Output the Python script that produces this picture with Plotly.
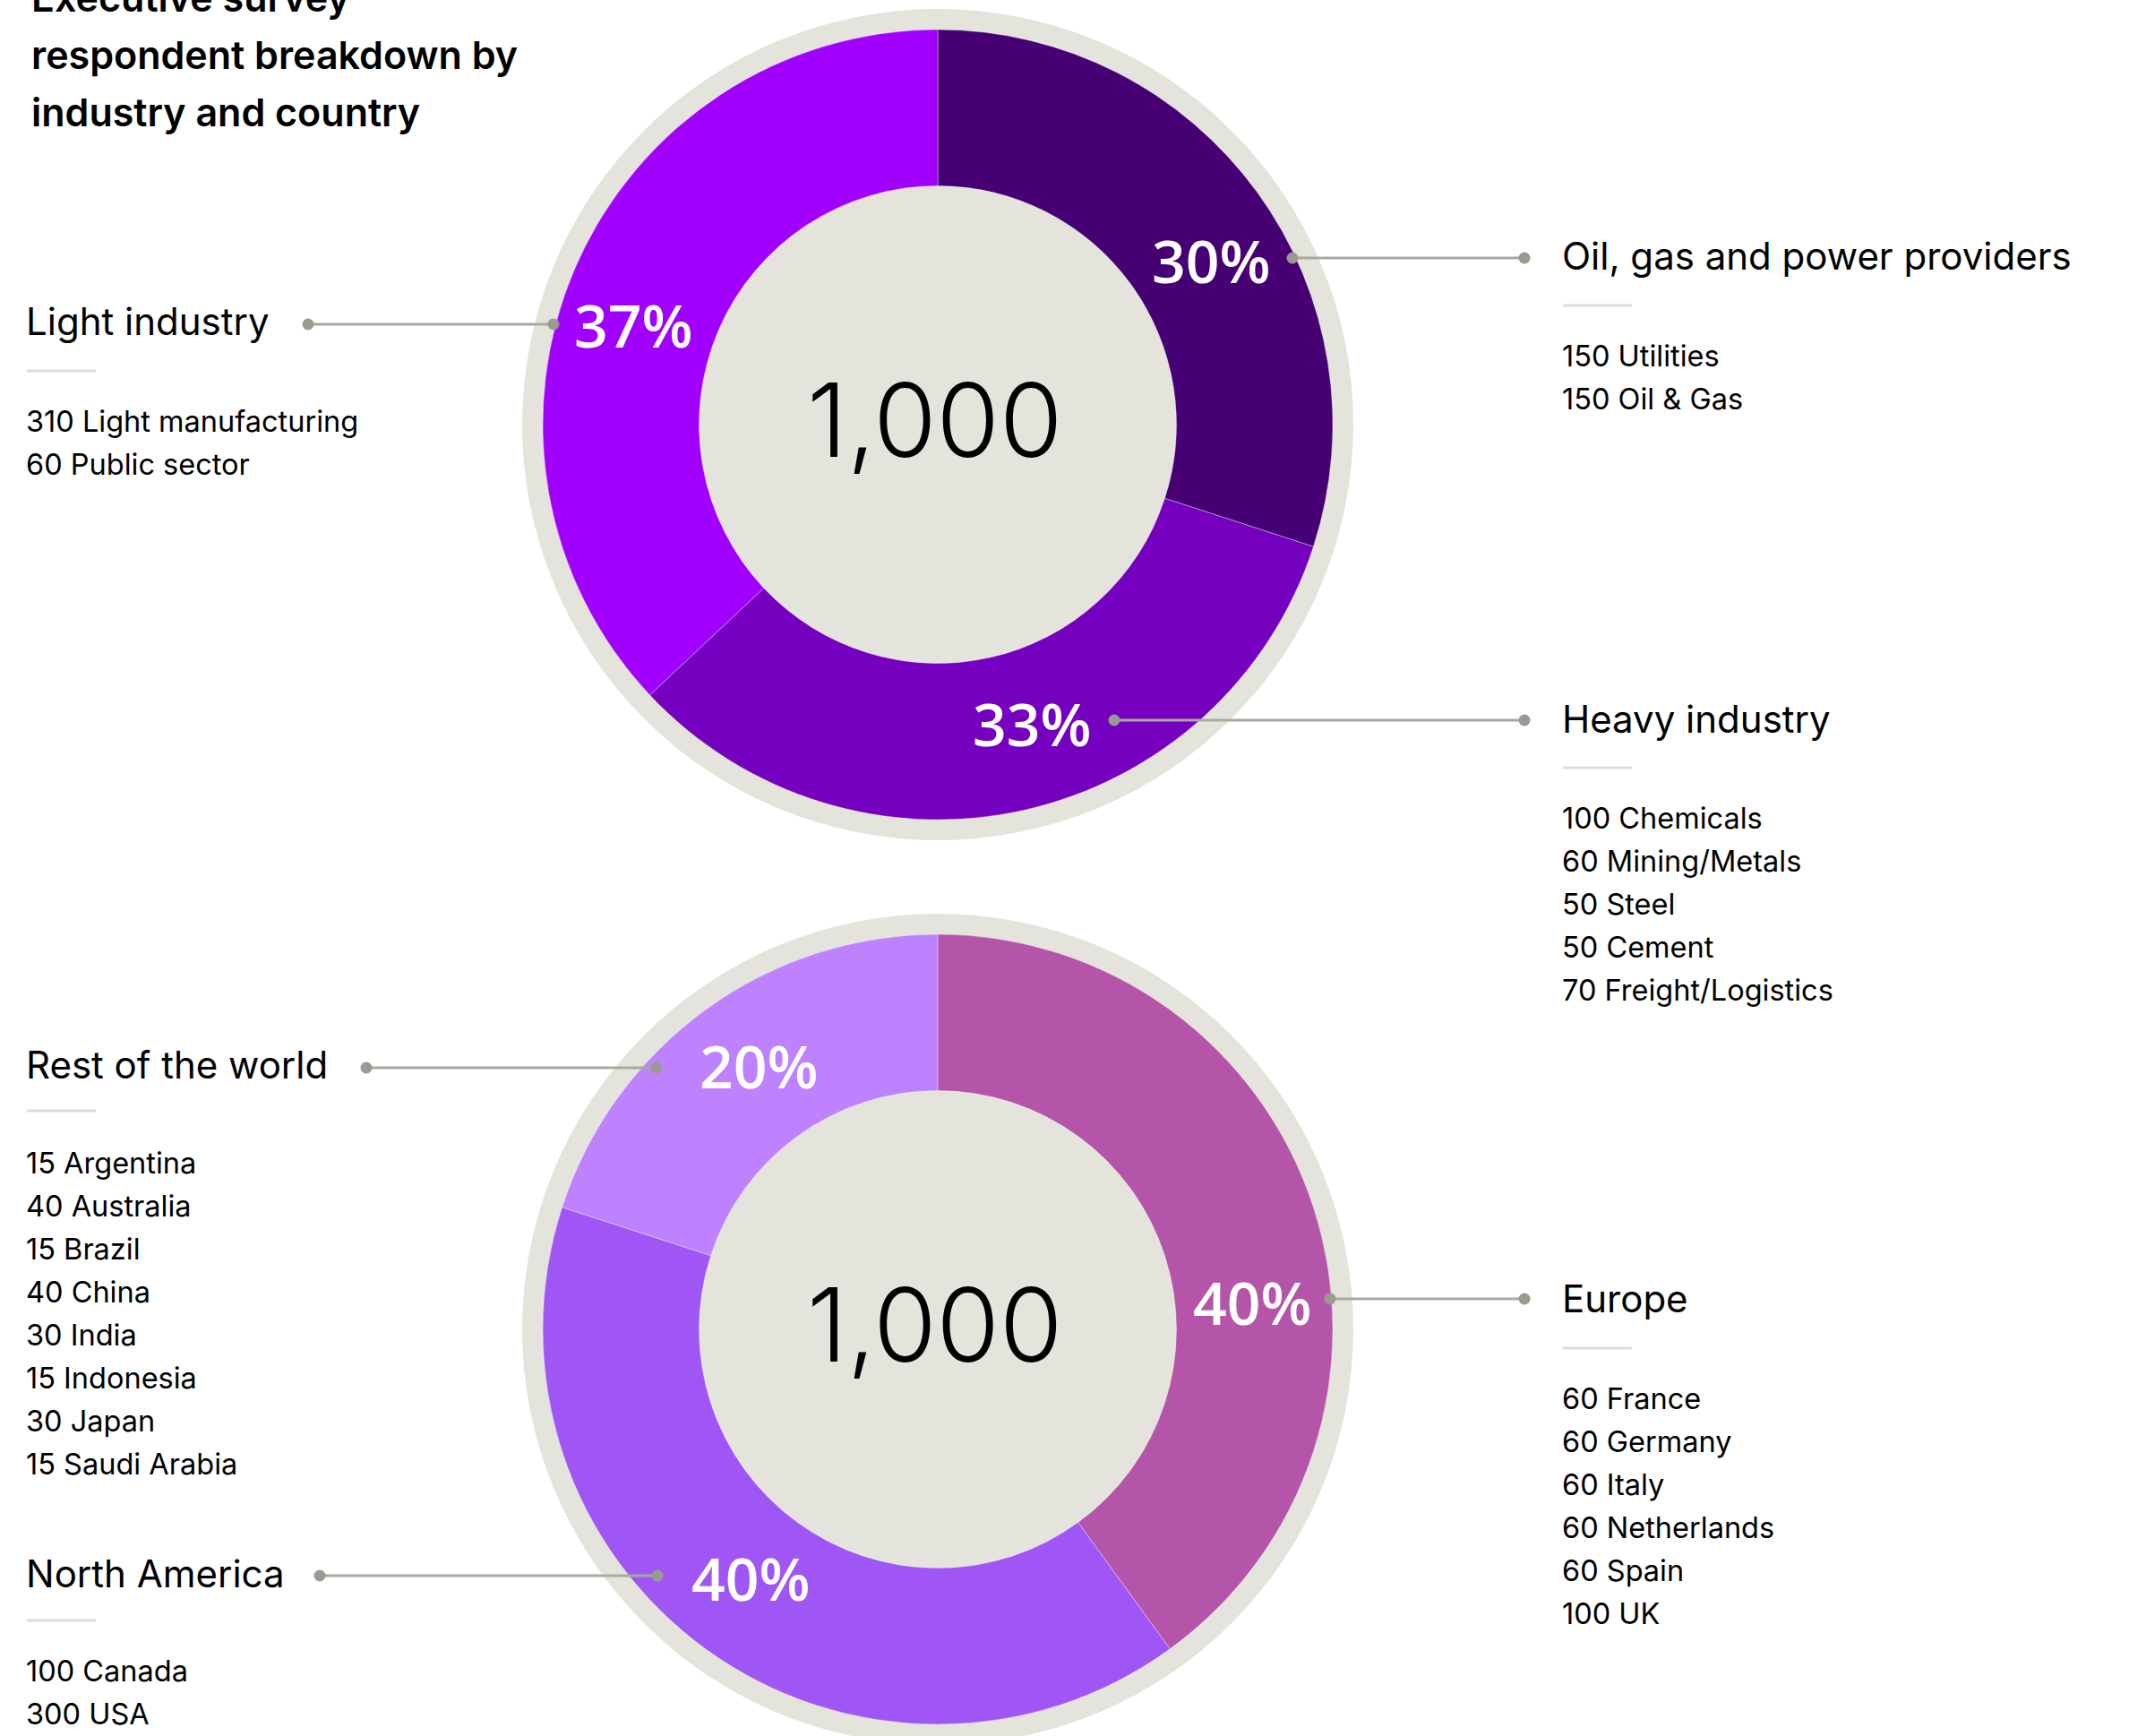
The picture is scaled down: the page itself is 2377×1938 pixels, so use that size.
import plotly.graph_objects as go

# ---------------- data ----------------
industry_labels = ["Oil, gas and power providers", "Heavy industry", "Light industry"]
industry_values = [300, 330, 370]
industry_colors = ["#460073", "#7500C0", "#A100FF"]
industry_sub_counts = [[150, 150], [100, 60, 50, 50, 70], [310, 60]]
industry_sub_names = [["Utilities", "Oil & Gas"],
                      ["Chemicals", "Mining/Metals", "Steel", "Cement", "Freight/Logistics"],
                      ["Light manufacturing", "Public sector"]]

country_labels = ["Europe", "North America", "Rest of the world"]
country_values = [400, 400, 200]
country_colors = ["#B455AA", "#A055F5", "#BE82FF"]
country_sub_counts = [[60, 60, 60, 60, 60, 100], [100, 300], [15, 40, 15, 40, 30, 15, 30, 15]]
country_sub_names = [["France", "Germany", "Italy", "Netherlands", "Spain", "UK"],
                     ["Canada", "USA"],
                     ["Argentina", "Australia", "Brazil", "China", "India", "Indonesia", "Japan", "Saudi Arabia"]]

title_lines = ["Executive survey", "respondent breakdown by", "industry and country"]

# ---------------- layout (pixel geometry) ----------------
W, H = 2377, 1938
R_OUT, R_IN, R_RING = 441, 266.5, 464
centers = [(1047, 474), (1047, 1484)]
TEXT_FONT = "Inter"
TEXT_DX = -3  # compensates the font's left side bearing

# per-slice annotation layout: side x, heading baseline, underline y, first item baseline,
# leader y, leader x0, x1, percent label centre
industry_layout = [
    dict(x=1745, hb=301, ul=341, ib=409, ly=288, lx0=1443, lx1=1702, px=1352, py=290),
    dict(x=1745, hb=818, ul=857, ib=925, ly=804, lx0=1244, lx1=1702, px=1152, py=807),
    dict(x=30, hb=374, ul=414, ib=482, ly=362, lx0=344, lx1=618, px=707, py=362),
]
country_layout = [
    dict(x=1745, hb=1465, ul=1505, ib=1573, ly=1450, lx0=1485, lx1=1702, px=1398, py=1453),
    dict(x=30, hb=1772, ul=1809, ib=1877, ly=1759, lx0=357, lx1=734, px=838, py=1761),
    dict(x=30, hb=1204, ul=1240, ib=1310, ly=1192, lx0=409, lx1=733, px=847, py=1189),
]
ITEM_STEP = 48
RING_COLOR = "#E4E4DC"
LINE_COLOR = "#A9A99F"
DOT_COLOR = "#9A9A91"


def fx(x):
    return x / W


def fy(y):
    return 1 - y / H


fig = go.Figure()


def add_text(x, baseline, text, size, family=TEXT_FONT, weight=400, color="#000000", xanchor="left"):
    ymid = baseline - 0.36 * size
    fig.add_annotation(x=fx(x + TEXT_DX), y=fy(ymid), xref="paper", yref="paper", text=text,
                       showarrow=False, xanchor=xanchor, yanchor="middle",
                       font=dict(family=family, size=size, color=color, weight=weight))


def add_center_text(x, y, text, size, family=TEXT_FONT, weight=400, color="#000000"):
    fig.add_annotation(x=fx(x), y=fy(y), xref="paper", yref="paper", text=text,
                       showarrow=False, xanchor="center", yanchor="middle",
                       font=dict(family=family, size=size, color=color, weight=weight))


def build(values, labels, colors, sub_counts, sub_names, lay, center, name):
    cx, cy = center
    # ring background
    fig.add_shape(type="circle", xref="paper", yref="paper", layer="below",
                  x0=fx(cx - R_RING), x1=fx(cx + R_RING), y0=fy(cy + R_RING), y1=fy(cy - R_RING),
                  fillcolor=RING_COLOR, line=dict(width=0))
    fig.add_trace(go.Pie(
        values=values, labels=labels, name=name, sort=False, direction="clockwise", rotation=0,
        hole=R_IN / R_OUT, textinfo="none", showlegend=False,
        marker=dict(colors=colors, line=dict(color="rgba(255,255,255,0.35)", width=1)),
        domain=dict(x=[fx(cx - R_OUT), fx(cx + R_OUT)], y=[fy(cy + R_OUT), fy(cy - R_OUT)]),
    ))
    total = sum(values)
    add_center_text(cx - 4, cy - 6, f"{total:,}", 114, weight=300)
    for v, lab, counts, names, L in zip(values, labels, sub_counts, sub_names, lay):
        pct = round(100 * v / total)
        add_center_text(L["px"], L["py"], f"{pct}%", 66, family="Open Sans", weight=600, color="#FFFFFF")
        # leader line with dots
        fig.add_shape(type="line", xref="paper", yref="paper",
                      x0=fx(L["lx0"]), x1=fx(L["lx1"]), y0=fy(L["ly"]), y1=fy(L["ly"]),
                      line=dict(color=LINE_COLOR, width=3))
        for xd in (L["lx0"], L["lx1"]):
            r = 6.5
            fig.add_shape(type="circle", xref="paper", yref="paper",
                          x0=fx(xd - r), x1=fx(xd + r), y0=fy(L["ly"] + r), y1=fy(L["ly"] - r),
                          fillcolor=DOT_COLOR, line=dict(width=0))
        # heading, underline and item list
        add_text(L["x"], L["hb"], lab, 42)
        fig.add_shape(type="line", xref="paper", yref="paper",
                      x0=fx(L["x"]), x1=fx(L["x"] + 77), y0=fy(L["ul"]), y1=fy(L["ul"]),
                      line=dict(color="#DCDCDC", width=3))
        for i, (c, n) in enumerate(zip(counts, names)):
            add_text(L["x"], L["ib"] + i * ITEM_STEP, f"{c} {n}", 32.5)


build(industry_values, industry_labels, industry_colors, industry_sub_counts, industry_sub_names,
      industry_layout, centers[0], "Industry")
build(country_values, country_labels, country_colors, country_sub_counts, country_sub_names,
      country_layout, centers[1], "Country")

for i, line in enumerate(title_lines):
    add_text(36, 12 + 64 * i, line, 43, weight=600)

fig.update_layout(width=W, height=H, margin=dict(l=0, r=0, t=0, b=0),
                  paper_bgcolor="#FFFFFF", plot_bgcolor="#FFFFFF", showlegend=False)

fig.write_html("out.html", config={"displayModeBar": False},
               post_script="document.body.style.margin='0';document.body.style.overflow='hidden';")
